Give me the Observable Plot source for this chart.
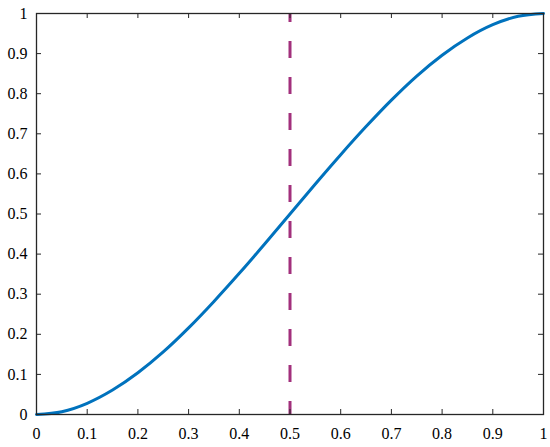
<!DOCTYPE html>
<html>
<head>
<meta charset="utf-8">
<script src="https://cdn.jsdelivr.net/npm/d3@7"></script>
<script src="https://cdn.jsdelivr.net/npm/@observablehq/plot@0.6"></script>
</head>
<body style="margin:0;background:#fff">
<div id="root"></div>
<script>
const xs = [0, 0.05, 0.1, 0.15, 0.2, 0.25, 0.3, 0.35, 0.4, 0.45, 0.5, 0.55, 0.6, 0.65, 0.7, 0.75, 0.8, 0.85, 0.9, 0.95, 1];
const ys = [0, 0.007, 0.028, 0.061, 0.104, 0.156, 0.216, 0.282, 0.352, 0.425, 0.5, 0.575, 0.648, 0.718, 0.784, 0.844, 0.896, 0.939, 0.972, 0.993, 1];
const threshold = [0.5];
const tickValues = [0, 0.1, 0.2, 0.3, 0.4, 0.5, 0.6, 0.7, 0.8, 0.9, 1];
const tickLabels = ["0", "0.1", "0.2", "0.3", "0.4", "0.5", "0.6", "0.7", "0.8", "0.9", "1"];

(function () {
  const rows = xs.map((x, i) => ({x, y: ys[i]}));
  const fmt = d => tickLabels[tickValues.indexOf(d)];
  const ink = "#262626";
  const serif = "Liberation Serif";
  const W = 550, H = 447, mL = 36, mR = 7, mT = 13, mB = 33;
  const innerW = W - mL - mR, innerH = H - mT - mB, tk = 5;

  const svg = Plot.plot({
    width: W,
    height: H,
    marginLeft: mL,
    marginRight: mR,
    marginTop: mT,
    marginBottom: mB,
    x: {domain: [0, 1], axis: null},
    y: {domain: [0, 1], axis: null},
    marks: [
      Plot.line(rows, {x: "x", y: "y", stroke: "#0072BD", strokeWidth: 3, curve: "monotone-x"}),
      Plot.ruleX(threshold, {stroke: "#A2307C", strokeWidth: 3, strokeDasharray: "17,19", strokeDashoffset: 8}),
      Plot.axisX(tickValues, {anchor: "bottom", tickSize: 0, tickPadding: 13, tickFormat: fmt, label: null, fontFamily: serif, fontSize: 16}),
      Plot.axisY(tickValues, {anchor: "left", tickSize: 0, tickPadding: 9, tickFormat: fmt, label: null, fontFamily: serif, fontSize: 16}),
      Plot.ruleX(tickValues, {stroke: ink, insetTop: innerH - tk}),
      Plot.ruleX(tickValues, {stroke: ink, insetBottom: innerH - tk}),
      Plot.ruleY(tickValues, {stroke: ink, insetRight: innerW - tk}),
      Plot.ruleY(tickValues, {stroke: ink, insetLeft: innerW - tk}),
      Plot.frame({stroke: ink, strokeWidth: 1.3})
    ]
  });
  svg.style.display = "block";
  document.getElementById("root").appendChild(svg);
})();
</script>
</body>
</html>
